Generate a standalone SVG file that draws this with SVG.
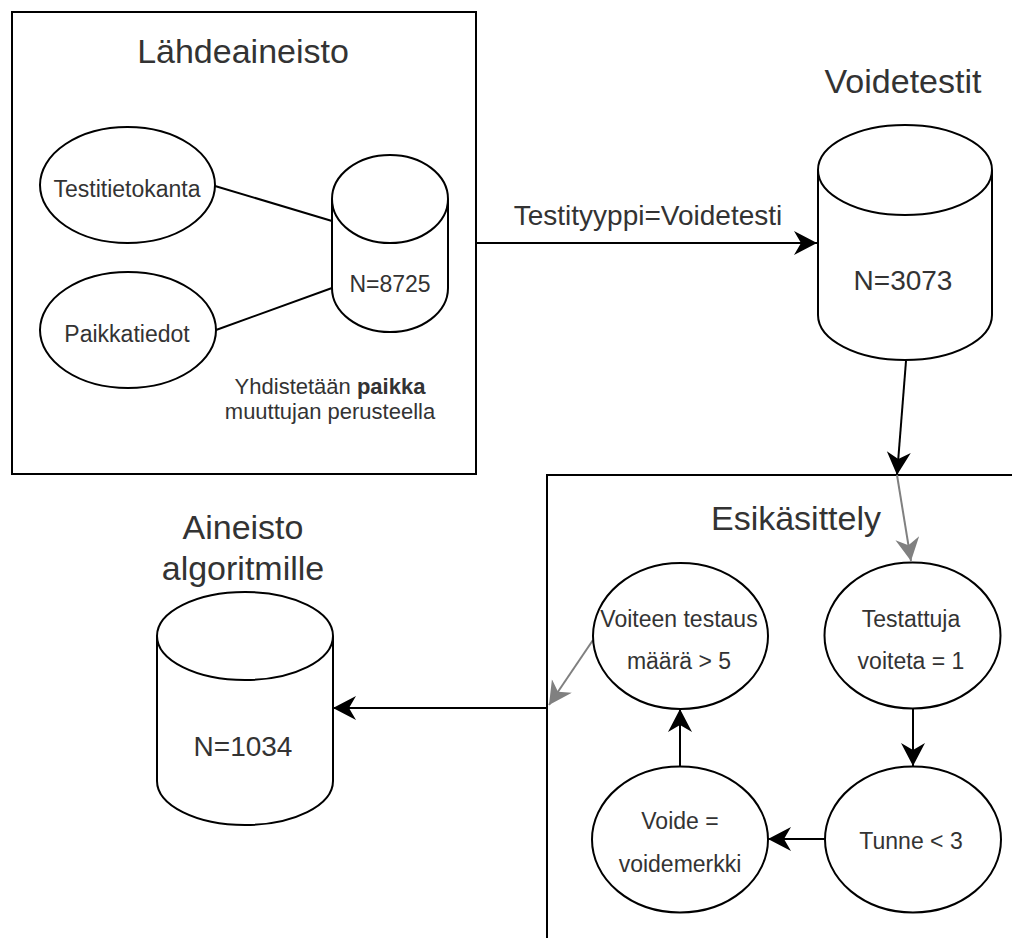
<svg xmlns="http://www.w3.org/2000/svg" width="1012" height="938" viewBox="0 0 1012 938">
  <defs>
    <style>
      .shape { fill: #ffffff; stroke: #000000; stroke-width: 2; }
      .line { fill: none; stroke: #000000; stroke-width: 2; }
      .gray { fill: none; stroke: #808080; stroke-width: 2; }
      text { font-family: "Liberation Sans", Arial, Helvetica, sans-serif; fill: #333333; text-anchor: middle; }
      .big { font-size: 34px; }
      .mid { font-size: 28px; }
      .small { font-size: 23px; }
      .note { font-size: 22px; }
    </style>
    <marker id="arrow" markerUnits="userSpaceOnUse" markerWidth="26" markerHeight="26" refX="23" refY="12" orient="auto">
      <path d="M0,0 L23,12 L0,24 L7,12 Z" fill="#000000"/>
    </marker>
    <marker id="arrowGray" markerUnits="userSpaceOnUse" markerWidth="26" markerHeight="26" refX="23" refY="12" orient="auto">
      <path d="M0,0 L23,12 L0,24 L7,12 Z" fill="#808080"/>
    </marker>
  </defs>

  <rect width="1012" height="938" fill="#ffffff"/>

  <g id="lahdeaineisto">
    <rect class="shape" x="12" y="12" width="464" height="462"/>
    <text class="big" x="243" y="63">Lähdeaineisto</text>
  </g>

  <g id="esikasittely">
    <rect class="shape" x="547" y="475" width="480" height="480"/>
    <text class="big" x="796" y="530">Esikäsittely</text>
  </g>

  <g id="connectors">
    <line class="line" x1="215" y1="186" x2="332" y2="221"/>
    <line class="line" x1="216" y1="330" x2="332" y2="288"/>
    <line class="line" x1="476" y1="243" x2="817" y2="243" marker-end="url(#arrow)"/>
    <text class="mid" x="648" y="225">Testityyppi=Voidetesti</text>
    <line class="line" x1="906" y1="361" x2="897" y2="475" marker-end="url(#arrow)"/>
    <line class="gray" x1="897" y1="475" x2="911" y2="561" marker-end="url(#arrowGray)"/>
    <line class="line" x1="913" y1="708" x2="913" y2="766" marker-end="url(#arrow)"/>
    <line class="line" x1="825" y1="839" x2="768" y2="839" marker-end="url(#arrow)"/>
    <line class="line" x1="680" y1="766" x2="680" y2="709" marker-end="url(#arrow)"/>
    <line class="gray" x1="593" y1="640" x2="549" y2="705" marker-end="url(#arrowGray)"/>
    <line class="line" x1="547" y1="708" x2="333" y2="708" marker-end="url(#arrow)"/>
  </g>

  <g id="testitietokanta">
    <ellipse class="shape" cx="127.5" cy="185" rx="87.5" ry="58"/>
    <text class="small" x="127" y="197">Testitietokanta</text>
  </g>

  <g id="paikkatiedot">
    <ellipse class="shape" cx="128" cy="330" rx="88" ry="58"/>
    <text class="small" x="127" y="342">Paikkatiedot</text>
  </g>

  <g id="yhdistetty">
    <path class="shape" d="M332,199 L332,288 A58,44 0 0 0 448,288 L448,199"/>
    <ellipse class="shape" cx="390" cy="199" rx="58" ry="44"/>
    <text class="small" x="390" y="292">N=8725</text>
  </g>

  <g id="yhdistys-teksti">
    <text class="note" x="330" y="394">Yhdistetään <tspan font-weight="bold">paikka</tspan></text>
    <text class="note" x="330" y="419">muuttujan perusteella</text>
  </g>

  <g id="voidetestit">
    <text class="big" x="903" y="93">Voidetestit</text>
    <path class="shape" d="M818,170 L818,315 A87,45 0 0 0 992,315 L992,170"/>
    <ellipse class="shape" cx="905" cy="170" rx="87" ry="45"/>
    <text class="mid" x="903" y="290">N=3073</text>
  </g>

  <g id="testattuja">
    <ellipse class="shape" cx="912.5" cy="635.5" rx="88" ry="73"/>
    <text class="small" x="911" y="627">Testattuja</text>
    <text class="small" x="911" y="669">voiteta = 1</text>
  </g>

  <g id="tunne">
    <ellipse class="shape" cx="913" cy="839.5" rx="88" ry="73"/>
    <text class="small" x="911" y="849">Tunne &lt; 3</text>
  </g>

  <g id="voide">
    <ellipse class="shape" cx="680" cy="839.5" rx="88" ry="73"/>
    <text class="small" x="680" y="829">Voide =</text>
    <text class="small" x="680" y="872">voidemerkki</text>
  </g>

  <g id="voiteen-testaus">
    <ellipse class="shape" cx="680.5" cy="636" rx="87.5" ry="73"/>
    <text class="small" x="679" y="627">Voiteen testaus</text>
    <text class="small" x="679" y="669">määrä &gt; 5</text>
  </g>

  <g id="aineisto">
    <text class="big" x="243" y="539">Aineisto</text>
    <text class="big" x="243" y="580">algoritmille</text>
    <path class="shape" d="M157,636 L157,781 A88,44 0 0 0 333,781 L333,636"/>
    <ellipse class="shape" cx="245" cy="636" rx="88" ry="44"/>
    <text class="mid" x="243" y="756">N=1034</text>
  </g>
</svg>
